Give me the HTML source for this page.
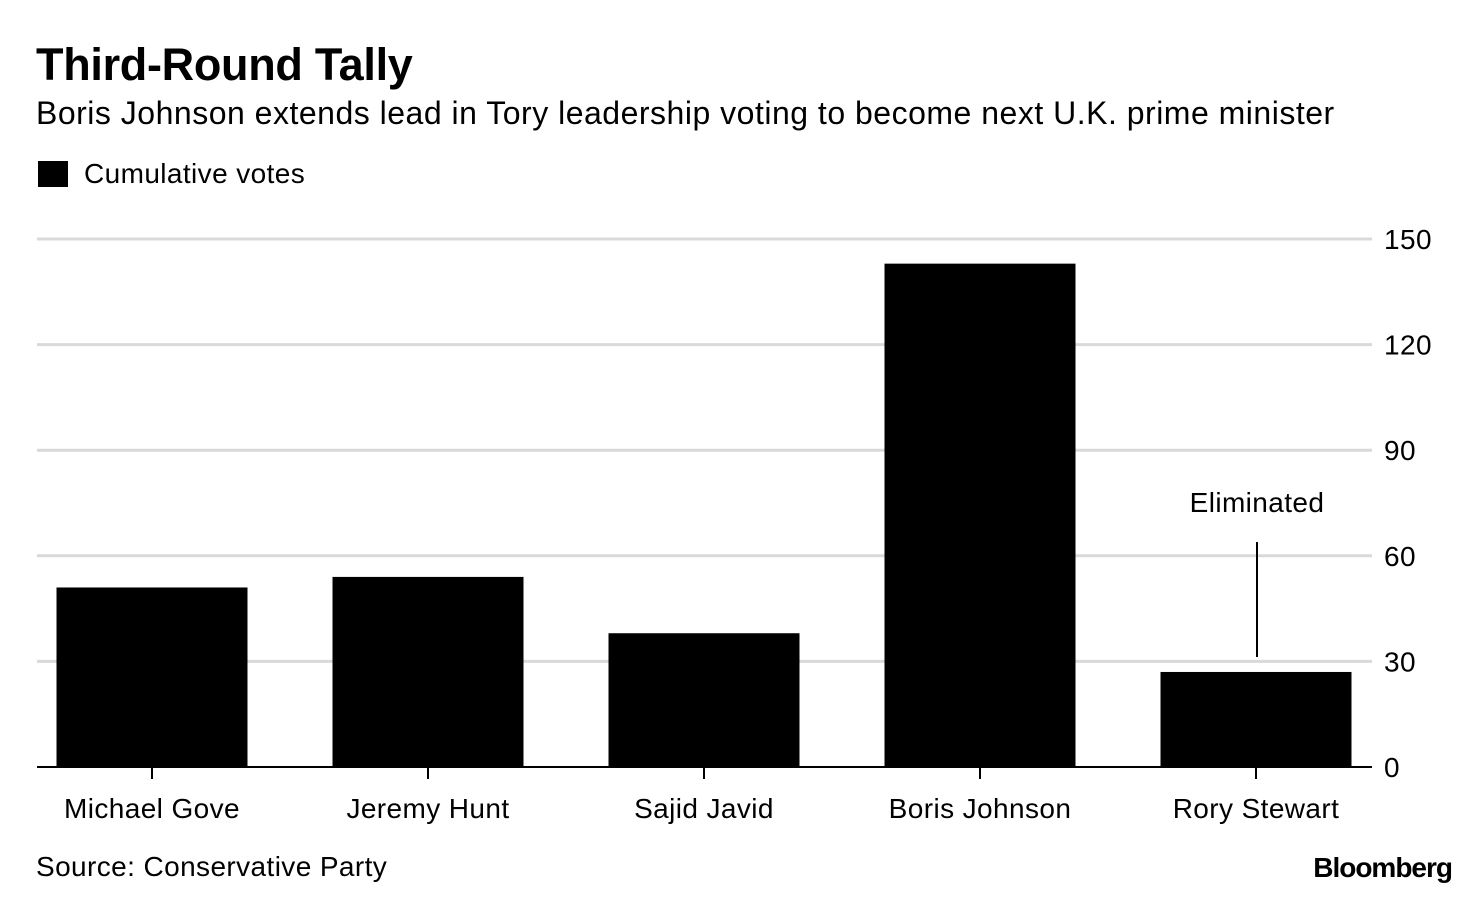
<!DOCTYPE html>
<html><head><meta charset="utf-8"><style>
body{margin:0;background:#fff;font-family:"Liberation Sans",Arial,sans-serif;}
#wrap{position:relative;width:1480px;height:900px;overflow:hidden;}
.t{position:absolute;white-space:nowrap;color:#000;}
</style></head><body>
<div id="wrap">
<div class="t" style="left:36px;top:39px;font-size:45px;font-weight:bold;letter-spacing:-0.3px">Third-Round Tally</div>
<div class="t" style="left:36px;top:95px;font-size:32px;letter-spacing:0.5px">Boris Johnson extends lead in Tory leadership voting to become next U.K. prime minister</div>
<div style="position:absolute;left:38px;top:161px;width:30px;height:26px;background:#000"></div>
<div class="t" style="left:84px;top:158px;font-size:28px;letter-spacing:0.4px">Cumulative votes</div>
<svg id="chart" width="1480" height="900" style="position:absolute;left:0;top:0"></svg>
<div class="t" style="left:36px;top:851px;font-size:28px;letter-spacing:0.4px">Source: Conservative Party</div>
<div class="t" style="right:28px;top:852px;font-size:28px;font-weight:bold;letter-spacing:-1px">Bloomberg</div>
</div>
<script>
const categories=["Michael Gove","Jeremy Hunt","Sajid Javid","Boris Johnson","Rory Stewart"];
const votes=[51,54,38,143,27];
const ticks=[0,30,60,90,120,150];
const NS="http://www.w3.org/2000/svg";
const svg=document.getElementById('chart');
const y0=767,yTop=239,vmax=150;
const y=v=>y0-(v/vmax)*(y0-yTop);
const bandStart=14,band=276,barW=191;
const xc=i=>bandStart+band*(i+0.5);
const FONT='Liberation Sans, sans-serif';
function mk(t,a){const e=document.createElementNS(NS,t);for(const k in a)e.setAttribute(k,a[k]);svg.appendChild(e);return e;}
ticks.forEach(t=>{
  if(t>0){const g=mk('line',{x1:37,x2:1372,y1:y(t),y2:y(t),stroke:'#d9d9d9','stroke-width':3});
  
  }
  const l=mk('text',{x:1384,y:y(t)+10,'font-size':28,'letter-spacing':0.4,'font-family':FONT});
  l.textContent=t;
  
  
});
votes.forEach((v,i)=>{
  const r=mk('rect',{x:xc(i)-barW/2,y:y(v),width:barW,height:y0-y(v),fill:'#000'});
  
  
  const tk=mk('line',{x1:xc(i),x2:xc(i),y1:y0,y2:y0+12,stroke:'#000','stroke-width':2});
  
  
  const l=mk('text',{x:xc(i),y:818,'text-anchor':'middle','font-size':28,'letter-spacing':0.4,'font-family':FONT});
  l.textContent=categories[i];
  
  
});
const ax=mk('line',{x1:37,x2:1372,y1:y0,y2:y0,stroke:'#000','stroke-width':2});


const si=4;
const an=mk('line',{x1:xc(si)+1,x2:xc(si)+1,y1:542,y2:657,stroke:'#000','stroke-width':2});


const at=mk('text',{x:xc(si)+1,y:512,'text-anchor':'middle','font-size':28,'letter-spacing':0.4,'font-family':FONT});
at.textContent='Eliminated';


</script>
</body></html>
